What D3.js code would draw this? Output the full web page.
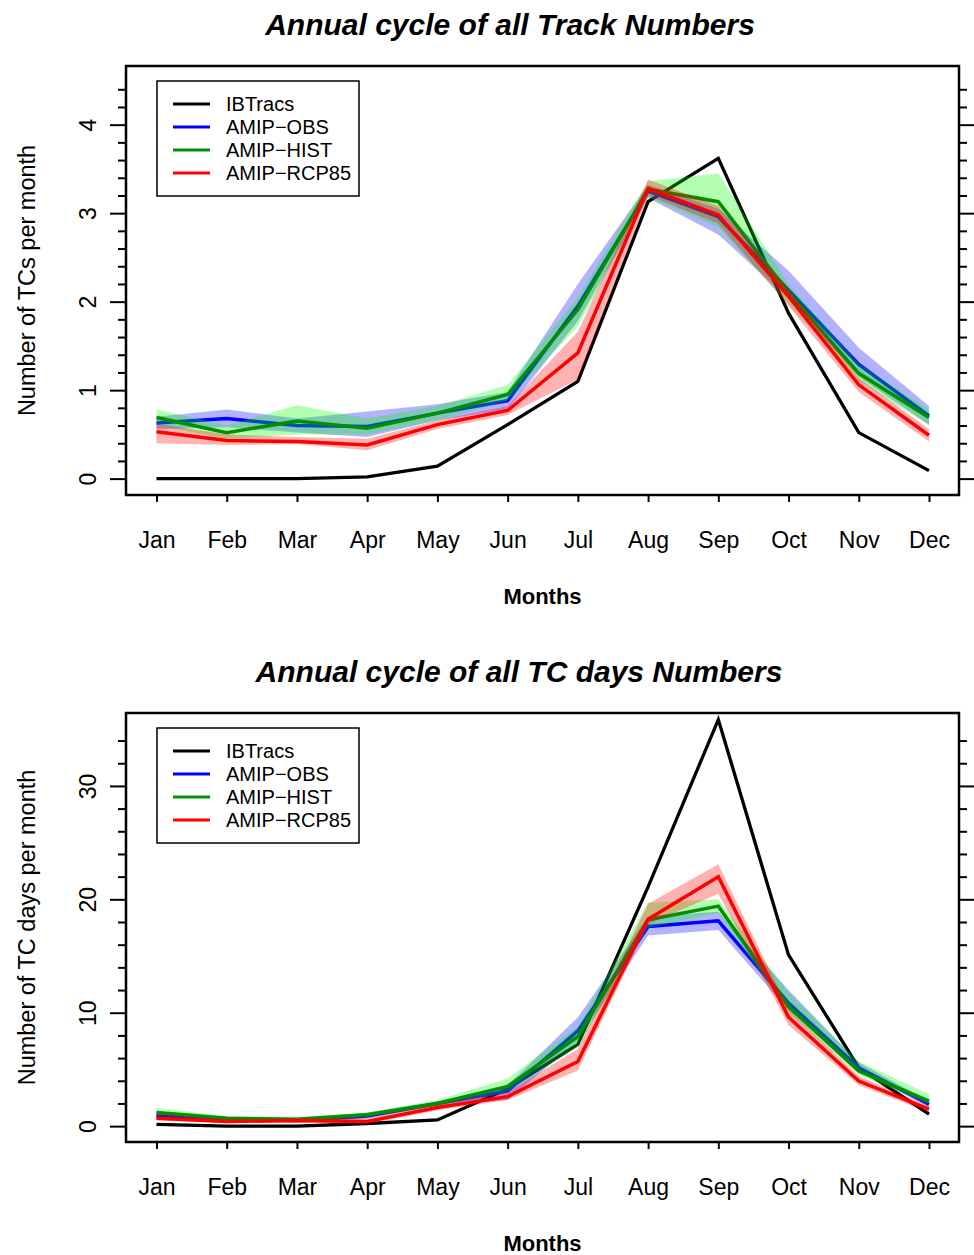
<!DOCTYPE html>
<html>
<head>
<meta charset="utf-8">
<script src="https://cdn.jsdelivr.net/npm/d3@7"></script>
<style>
  html, body { margin: 0; padding: 0; background: #fff; }
  svg { display: block; font-family: "Liberation Sans", Arial, Helvetica, sans-serif; }
</style>
</head>
<body>
<svg id="chart" width="974" height="1255"></svg>
<script>
// Months on the x axis
const months = ["Jan", "Feb", "Mar", "Apr", "May", "Jun", "Jul", "Aug", "Sep", "Oct", "Nov", "Dec"];

// Series names and colours
const seriesNames = ["IBTracs", "AMIP\u2212OBS", "AMIP\u2212HIST", "AMIP\u2212RCP85"];
const lineColors = ["#000000", "#0000ff", "#009000", "#ff0000"];
const bandColors = ["none", "rgba(0,0,255,0.3)", "rgba(0,255,0,0.3)", "rgba(255,0,0,0.3)"];

// ---- Panel 1: number of tracks per month ----
const trackIBTracs = [0.0, 0.0, 0.0, 0.02, 0.14, 0.61, 1.10, 3.13, 3.62, 1.87, 0.52, 0.09];
const trackObs     = [0.63, 0.68, 0.60, 0.59, 0.74, 0.88, 1.95, 3.25, 2.96, 2.13, 1.29, 0.71];
const trackObsLo   = [0.56, 0.58, 0.52, 0.47, 0.66, 0.78, 1.78, 3.17, 2.76, 2.03, 1.15, 0.61];
const trackObsHi   = [0.70, 0.78, 0.68, 0.76, 0.84, 0.98, 2.20, 3.32, 3.05, 2.35, 1.48, 0.82];
const trackHist    = [0.69, 0.52, 0.65, 0.57, 0.74, 0.95, 1.91, 3.27, 3.13, 2.10, 1.19, 0.69];
const trackHistLo  = [0.60, 0.45, 0.50, 0.50, 0.66, 0.88, 1.72, 3.18, 2.84, 1.97, 1.10, 0.60];
const trackHistHi  = [0.78, 0.60, 0.83, 0.68, 0.82, 1.06, 2.05, 3.36, 3.45, 2.20, 1.30, 0.78];
const trackRcp     = [0.53, 0.43, 0.42, 0.38, 0.61, 0.77, 1.42, 3.28, 2.98, 2.06, 1.06, 0.49];
const trackRcpLo   = [0.40, 0.38, 0.39, 0.32, 0.56, 0.72, 1.12, 3.20, 2.88, 1.95, 0.98, 0.42];
const trackRcpHi   = [0.62, 0.50, 0.47, 0.45, 0.66, 0.82, 1.66, 3.38, 3.08, 2.15, 1.14, 0.56];
const trackTicks   = [0, 1, 2, 3, 4];
const trackMinor   = [0.2, 0.4, 0.6, 0.8, 1.2, 1.4, 1.6, 1.8, 2.2, 2.4, 2.6, 2.8, 3.2, 3.4, 3.6, 3.8, 4.2, 4.4];

// ---- Panel 2: number of TC days per month ----
const daysIBTracs = [0.15, 0.0, 0.0, 0.23, 0.55, 3.3, 7.2, 21.1, 35.85, 15.1, 5.15, 1.05];
const daysObs     = [0.9, 0.6, 0.5, 0.9, 2.0, 3.1, 8.4, 17.6, 18.1, 10.85, 5.15, 1.93];
const daysObsLo   = [0.7, 0.5, 0.4, 0.7, 1.8, 2.3, 7.5, 16.8, 17.3, 10.2, 4.8, 1.7];
const daysObsHi   = [1.2, 0.8, 0.7, 1.2, 2.2, 3.6, 9.6, 18.5, 18.9, 12.0, 5.6, 2.2];
const daysHist    = [1.2, 0.7, 0.6, 1.0, 2.0, 3.5, 7.9, 18.2, 19.4, 10.55, 4.85, 2.2];
const daysHistLo  = [1.0, 0.5, 0.4, 0.8, 1.8, 3.0, 7.0, 17.5, 18.8, 10.0, 4.5, 1.9];
const daysHistHi  = [1.6, 0.9, 0.8, 1.2, 2.3, 4.2, 8.8, 19.7, 20.0, 11.8, 5.7, 2.8];
const daysRcp     = [0.7, 0.4, 0.5, 0.4, 1.65, 2.6, 5.7, 18.25, 22.0, 9.6, 3.97, 1.5];
const daysRcpLo   = [0.5, 0.3, 0.3, 0.2, 1.4, 2.3, 4.9, 17.8, 20.5, 8.9, 3.6, 1.2];
const daysRcpHi   = [1.0, 0.6, 0.7, 0.7, 1.9, 3.0, 6.8, 19.6, 23.1, 10.3, 4.4, 1.8];
const daysTicks   = [0, 10, 20, 30];
const daysMinor   = [2, 4, 6, 8, 12, 14, 16, 18, 22, 24, 26, 28, 32, 34];

const svg = d3.select("#chart");

// Shared horizontal geometry of both panels
const boxLeft = 126, boxRight = 959;
const x = d3.scalePoint().domain(months).range([156.5, 929]);

function drawPanel(opt) {
  const g = svg.append("g").attr("transform", `translate(0,${opt.offset})`);
  const boxTop = 66, boxBottom = 495;
  const y = d3.scaleLinear().domain(opt.yDomain).range([boxBottom, boxTop]);

  // Title
  g.append("text")
    .attr("x", opt.titleX).attr("y", 35)
    .attr("text-anchor", "middle")
    .attr("font-size", 30).attr("font-weight", "bold").attr("font-style", "italic")
    .text(opt.title);

  // Observed series first, under the model ensembles
  const line = d3.line().x((d, i) => x(months[i])).y(d => y(d));
  const area = d3.area().x((d, i) => x(months[i]))
    .y0(d => y(d[0])).y1(d => y(d[1]));

  const plot = g.append("g");
  plot.append("path").datum(opt.obs)
    .attr("d", line).attr("fill", "none")
    .attr("stroke", lineColors[0]).attr("stroke-width", 3.3)
    .attr("stroke-linejoin", "miter");

  opt.models.forEach((m, k) => {
    const band = m.lo.map((v, i) => [v, m.hi[i]]);
    plot.append("path").datum(band)
      .attr("d", area).attr("fill", bandColors[k + 1]).attr("stroke", "none");
    plot.append("path").datum(m.mean)
      .attr("d", line).attr("fill", "none")
      .attr("stroke", lineColors[k + 1]).attr("stroke-width", 3.5)
      .attr("stroke-linejoin", "miter");
  });

  // Frame
  g.append("rect")
    .attr("x", boxLeft).attr("y", boxTop)
    .attr("width", boxRight - boxLeft).attr("height", boxBottom - boxTop)
    .attr("fill", "none").attr("stroke", "#000").attr("stroke-width", 2.5);

  // Bottom axis: month ticks and labels
  const xAxis = d3.axisBottom(x).tickSize(7).tickPadding(30).tickSizeOuter(0);
  const xg = g.append("g").attr("transform", `translate(0,${boxBottom})`).call(xAxis);
  xg.select(".domain").remove();
  xg.selectAll(".tick line").attr("stroke-width", 2);
  xg.selectAll(".tick text").attr("font-size", 23).attr("fill", "#000")
    .attr("font-family", "Liberation Sans, Arial, sans-serif");

  // Left axis: major ticks with labels, minor ticks without
  const yAxis = d3.axisLeft(y).tickValues(opt.ticks).tickFormat(d3.format("d"))
    .tickSize(16).tickPadding(0).tickSizeOuter(0);
  const yg = g.append("g").attr("transform", `translate(${boxLeft},0)`).call(yAxis);
  yg.select(".domain").remove();
  yg.selectAll(".tick line").attr("stroke-width", 2);
  yg.selectAll(".tick text")
    .attr("font-size", 23).attr("fill", "#000")
    .attr("font-family", "Liberation Sans, Arial, sans-serif")
    .attr("text-anchor", "middle").attr("dy", null)
    .attr("x", null)
    .attr("transform", "translate(-30,0) rotate(-90)");
  const yMinor = d3.axisLeft(y).tickValues(opt.minor).tickSize(8).tickFormat("").tickSizeOuter(0);
  const ymg = g.append("g").attr("transform", `translate(${boxLeft},0)`).call(yMinor);
  ymg.select(".domain").remove();
  ymg.selectAll(".tick line").attr("stroke-width", 2);

  // Right axis ticks (no labels)
  const yRight = d3.axisRight(y).tickValues(opt.ticks).tickSize(15).tickFormat("").tickSizeOuter(0);
  const yrg = g.append("g").attr("transform", `translate(${boxRight},0)`).call(yRight);
  yrg.select(".domain").remove();
  yrg.selectAll(".tick line").attr("stroke-width", 2);
  const yRightMinor = d3.axisRight(y).tickValues(opt.minor).tickSize(8).tickFormat("").tickSizeOuter(0);
  const yrmg = g.append("g").attr("transform", `translate(${boxRight},0)`).call(yRightMinor);
  yrmg.select(".domain").remove();
  yrmg.selectAll(".tick line").attr("stroke-width", 2);

  // Axis titles
  g.append("text")
    .attr("x", (boxLeft + boxRight) / 2).attr("y", 604)
    .attr("text-anchor", "middle").attr("font-size", 22).attr("font-weight", "bold")
    .text("Months");
  g.append("text")
    .attr("transform", `translate(35,${(boxTop + boxBottom) / 2}) rotate(-90)`)
    .attr("text-anchor", "middle").attr("font-size", 23.5)
    .text(opt.yLabel);

  // Legend
  const lg = g.append("g");
  const legTop = opt.legendTop;
  lg.append("rect")
    .attr("x", 157).attr("y", legTop)
    .attr("width", 202).attr("height", 115)
    .attr("fill", "#fff").attr("stroke", "#000").attr("stroke-width", 1.5);
  seriesNames.forEach((name, i) => {
    const yy = legTop + 23 + i * 23;
    lg.append("line")
      .attr("x1", 173).attr("x2", 210).attr("y1", yy).attr("y2", yy)
      .attr("stroke", lineColors[i]).attr("stroke-width", 3);
    lg.append("text")
      .attr("x", 226).attr("y", yy + 7)
      .attr("font-size", 20)
      .text(name);
  });
}

drawPanel({
  offset: 0,
  title: "Annual cycle of all Track Numbers",
  titleX: 510,
  yLabel: "Number of TCs per month",
  yDomain: [-0.185, 4.663],
  ticks: trackTicks,
  minor: trackMinor,
  legendTop: 81,
  obs: trackIBTracs,
  models: [
    { mean: trackObs, lo: trackObsLo, hi: trackObsHi },
    { mean: trackHist, lo: trackHistLo, hi: trackHistHi },
    { mean: trackRcp, lo: trackRcpLo, hi: trackRcpHi }
  ]
});

drawPanel({
  offset: 647,
  title: "Annual cycle of all TC days Numbers",
  titleX: 519,
  yLabel: "Number of TC days per month",
  yDomain: [-1.40, 36.43],
  ticks: daysTicks,
  minor: daysMinor,
  legendTop: 81,
  obs: daysIBTracs,
  models: [
    { mean: daysObs, lo: daysObsLo, hi: daysObsHi },
    { mean: daysHist, lo: daysHistLo, hi: daysHistHi },
    { mean: daysRcp, lo: daysRcpLo, hi: daysRcpHi }
  ]
});
</script>
</body>
</html>
